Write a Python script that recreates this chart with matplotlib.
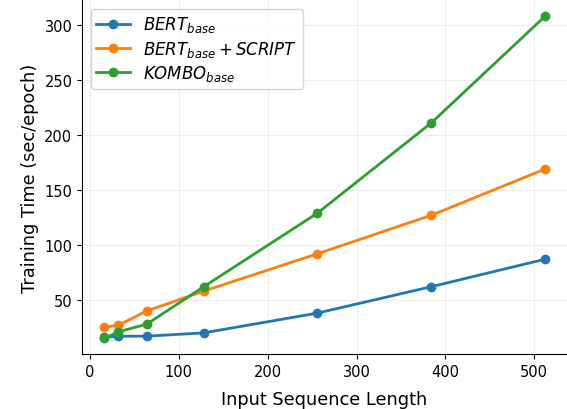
import matplotlib
matplotlib.use("Agg")
import matplotlib.pyplot as plt

seq_len = [16, 32, 64, 128, 256, 384, 512]
bert_base = [16, 17, 17, 20, 38, 62, 87]
bert_script = [25, 27, 40, 58, 92, 127, 169]
kombo_base = [15, 21, 28, 62, 129, 211, 308]

labels = [r"$BERT_{base}$", r"$BERT_{base} + SCRIPT$", r"$KOMBO_{base}$"]

fig, ax = plt.subplots(figsize=(5.67, 4.1), dpi=100)

ax.plot(seq_len, bert_base, marker="o", lw=2, ms=6, color="#1f77b4", label=labels[0])
ax.plot(seq_len, bert_script, marker="o", lw=2, ms=6, color="#ff7f0e", label=labels[1])
ax.plot(seq_len, kombo_base, marker="o", lw=2, ms=6, color="#2ca02c", label=labels[2])

ax.set_xlabel("Input Sequence Length", fontsize=12.8, labelpad=8)
ax.set_ylabel("Training Time (sec/epoch)", fontsize=12.8)
ax.tick_params(labelsize=10.5)
ax.set_yticks([50, 100, 150, 200, 250, 300])
ax.grid(True, color="#eeeeee", lw=0.8)
ax.set_axisbelow(True)
ax.spines["top"].set_visible(False)
ax.spines["right"].set_visible(False)
ax.legend(loc="upper left", fontsize=12, labelspacing=0.25, borderpad=0.35)

fig.subplots_adjust(left=0.145, right=1.0, top=0.997, bottom=0.133)
fig.savefig("out.png")
